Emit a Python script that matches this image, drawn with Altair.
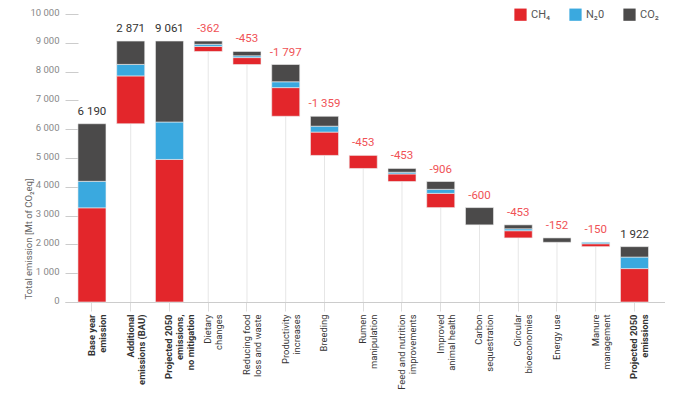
import altair as alt
import pandas as pd

categories = ["Base year|emission", "Additional|emissions (BAU)",
              "Projected 2050|emissions,|no mitigation", "Dietary|changes",
              "Reducing food|loss and waste", "Productivity|increases", "Breeding",
              "Rumen|manipulation", "Feed and nutrition|improvements",
              "Improved|animal health", "Carbon|sequestration", "Circular|bioeconomies",
              "Energy use", "Manure|management", "Projected 2050|emissions"]
kinds = ["total", "increase", "total"] + ["decrease"] * 11 + ["total"]
ch4 = [3270, 1660, 4950, 175, 240, 995, 810, 453, 262, 494, 0, 250, 0, 100, 1160]
n2o = [920, 400, 1300, 75, 63, 203, 205, 0, 60, 141, 0, 67, 0, 50, 400]
co2 = [2000, 811, 2811, 112, 150, 599, 344, 0, 131, 271, 600, 136, 152, 0, 362]
value_labels = ["6 190", "2 871", "9 061", "-362", "-453", "-1 797", "-1 359", "-453",
                "-453", "-906", "-600", "-453", "-152", "-150", "1 922"]
y_ticks = [0, 1000, 2000, 3000, 4000, 5000, 6000, 7000, 8000, 9000, 10000]
gases = ["CH₄", "N₂0", "CO₂"]
colors = ["#E3262B", "#3AA9DF", "#4B4A4A"]
bold_categories = [categories[0], categories[1], categories[2], categories[14]]

seg_rows, bar_rows = [], []
level = 0
for i, cat in enumerate(categories):
    vals = [ch4[i], n2o[i], co2[i]]
    total = sum(vals)
    if kinds[i] == "total":
        base = 0
        level = total
    elif kinds[i] == "increase":
        base = level
        level = level + total
    else:
        base = level - total
        level = base
    y = base
    for g, v in zip(gases, vals):
        if v > 0:
            seg_rows.append({"cat": cat, "gas": g, "y0": y, "y1": y + v})
        y += v
    bar_rows.append({"cat": cat, "base": base, "top": base + total,
                     "label": value_labels[i], "kind": kinds[i]})

segs = pd.DataFrame(seg_rows)
bars = pd.DataFrame(bar_rows)

FONT = "Roboto"
xscale = alt.Scale(paddingInner=0.277, paddingOuter=0.38, align=0.44)
xenc = alt.X("cat:N", sort=categories, scale=xscale, title=None,
             axis=alt.Axis(labelAngle=-90, labelExpr="split(datum.label, '|')",
                           labelFont=FONT, labelFontSize=9.4, labelColor="#333333",
                           labelFontWeight=alt.condition(
                               "indexof(" + str(bold_categories) + ", datum.value) >= 0",
                               alt.value("bold"), alt.value("normal")),
                           labelLineHeight=11, tickColor="#dddddd", tickSize=9,
                           domainColor="#cccccc", labelPadding=3, grid=False,
                           labelOverlap=False))
yscale = alt.Scale(domain=[0, 10000], nice=False)
yaxis = alt.Axis(values=y_ticks, offset=-13, tickSize=13,
                 tickColor="#cccccc", domain=False, grid=False,
                 labelOverlap=False, labelOffset=-2,
                 labelExpr="replace(format(datum.value, ','), ',', ' ')",
                 labelFont=FONT, labelFontSize=9.5, labelColor="#888888",
                 labelPadding=6, titleFont=FONT, titleFontSize=9.5,
                 titleFontWeight="normal", titleColor="#666666",
                 titleAngle=-90, titleAlign="left", titleX=-45, titleY=285)
ytitle = "Total emission [Mt of CO₂eq]"

rules = alt.Chart(bars).mark_rule(color="#e6e6e6", strokeWidth=1).encode(
    x=xenc, y=alt.Y("base:Q", scale=yscale, axis=yaxis, title=ytitle),
    y2=alt.Y2(datum=0))

rects = alt.Chart(segs).mark_bar(stroke="#eeeeee", strokeWidth=0.6).encode(
    x=xenc,
    y=alt.Y("y0:Q", scale=yscale, axis=yaxis, title=ytitle),
    y2="y1:Q",
    color=alt.Color("gas:N", scale=alt.Scale(domain=gases, range=colors),
                    title=None,
                    legend=alt.Legend(orient="none", legendX=449, legendY=-6,
                                      direction="horizontal", symbolType="square",
                                      symbolSize=150, symbolStrokeWidth=0,
                                      labelFont=FONT, labelFontSize=11,
                                      labelColor="#555555", columnPadding=18,
                                      labelOffset=4, padding=0)),
)

texts = alt.Chart(bars).mark_text(dy=-7, font=FONT, fontSize=11.5, baseline="bottom").encode(
    x=xenc, y=alt.Y("top:Q", scale=yscale, axis=yaxis, title=ytitle), text="label:N",
    color=alt.condition("datum.kind == 'decrease'", alt.value("#F05256"), alt.value("#333333")))

chart = alt.layer(rules, rects, texts).properties(
    width=600, height=288,
    autosize=alt.AutoSizeParams(type="none"),
    padding={"left": 57, "top": 6, "right": 0, "bottom": 88},
).configure_view(stroke=None)

chart.save("out.html", embed_options={"renderer": "svg", "actions": False})
